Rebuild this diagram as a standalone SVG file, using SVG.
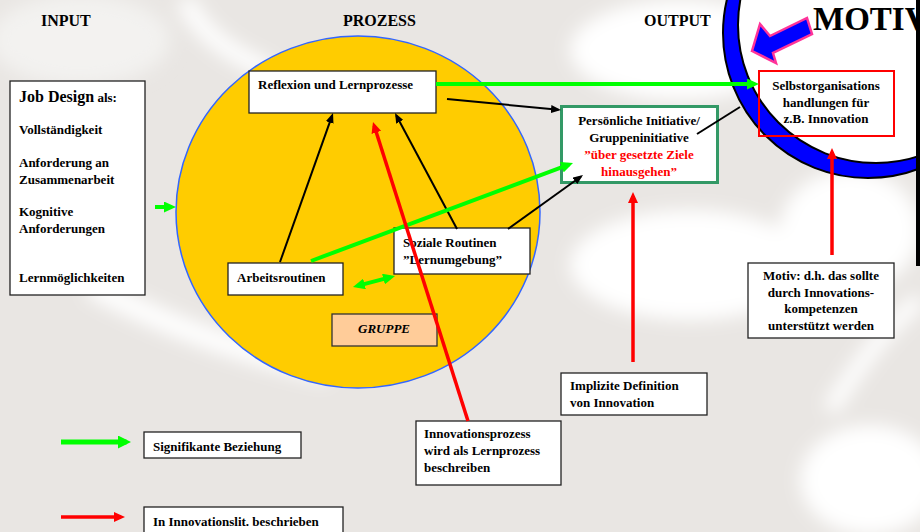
<svg xmlns="http://www.w3.org/2000/svg" width="920" height="532" viewBox="0 0 920 532">
<style>
.t{font-family:"Liberation Serif","Times New Roman",serif;font-weight:bold;font-size:13px;fill:#000}
.c{text-anchor:middle}
.h{font-size:16px}
.box{fill:#fff;stroke:#222;stroke-width:1.3}
.bk{stroke:#000;stroke-width:2;fill:none;marker-end:url(#ab)}
.rd{stroke:#ff0000;stroke-width:3.5;fill:none;marker-end:url(#ar)}
.gr{stroke:#00ff00;stroke-width:4;fill:none;marker-end:url(#ag)}
</style>
<defs>
<marker id="ab" markerUnits="userSpaceOnUse" markerWidth="10" markerHeight="8" refX="7.5" refY="4" orient="auto"><path d="M0,0 L10,4 L0,8 z" fill="#000"/></marker>
<marker id="ar" markerUnits="userSpaceOnUse" markerWidth="11" markerHeight="10" refX="7" refY="5" orient="auto"><path d="M0,0 L11,5 L0,10 z" fill="#ff0000"/></marker>
<marker id="ag" markerUnits="userSpaceOnUse" markerWidth="12" markerHeight="11" refX="7.5" refY="5.5" orient="auto-start-reverse"><path d="M0,0 L12,5.5 L0,11 z" fill="#00ff00"/></marker>
<marker id="agl" markerUnits="userSpaceOnUse" markerWidth="13" markerHeight="13" refX="8.5" refY="6.5" orient="auto"><path d="M0,0 L13,6.5 L0,13 z" fill="#00ff00"/></marker>
<filter id="blur" x="-20%" y="-20%" width="140%" height="140%"><feGaussianBlur stdDeviation="9"/></filter>
</defs>

<g id="background">
<rect x="0" y="0" width="920" height="532" fill="#e9e6e3"/>
<g filter="url(#blur)" fill="#ffffff">
<ellipse cx="80" cy="40" rx="90" ry="45" fill="#f3f2f0"/>
<ellipse cx="680" cy="50" rx="110" ry="50"/>
<ellipse cx="690" cy="265" rx="120" ry="55"/>
<ellipse cx="850" cy="230" rx="70" ry="60"/>
<ellipse cx="870" cy="480" rx="70" ry="55"/>
<path d="M185,0 Q205,45 270,70" stroke="#fff" stroke-width="18" fill="none"/>
<path d="M90,285 Q200,345 330,372" stroke="#fff" stroke-width="22" fill="none"/>
<path d="M830,410 Q880,330 920,300" stroke="#fff" stroke-width="16" fill="none"/>
</g>
</g>

<g id="titles">
<text class="t h" x="41" y="26">INPUT</text>
<text class="t h" x="343" y="26">PROZESS</text>
<text class="t h" x="644" y="26">OUTPUT</text>
</g>

<g id="gruppe-kreis">
<ellipse cx="358" cy="212" rx="182" ry="176" fill="#ffcc00" stroke="#3366ff" stroke-width="1.5"/>
</g>

<g id="motiv">
<circle cx="868" cy="33" r="145" fill="#0000ff" stroke="#000" stroke-width="2"/>
<circle cx="876" cy="25" r="138" fill="#ffffff" stroke="#000" stroke-width="2"/>
<text x="813" y="30" font-family="Liberation Serif, Times New Roman, serif" font-weight="bold" font-size="33" fill="#000">MOTIV</text>
<polygon points="752,51 776,63 773,53 812,34 807,18 770,36 760,24" fill="#0000ff" stroke="#ff3399" stroke-width="2.5" stroke-linejoin="miter"/>
<rect x="916" y="0" width="4" height="266" fill="#000"/>
</g>

<g id="job-design">
<rect class="box" x="10" y="81" width="135" height="214"/>
<text class="t" x="19" y="102"><tspan font-size="16">Job Design</tspan> als:</text>
<text class="t" x="19" y="134">Vollständigkeit</text>
<text class="t" x="19" y="167">Anforderung an</text>
<text class="t" x="19" y="184">Zusammenarbeit</text>
<text class="t" x="19" y="216">Kognitive</text>
<text class="t" x="19" y="233">Anforderungen</text>
<text class="t" x="19" y="282">Lernmöglichkeiten</text>
</g>

<g id="reflexion">
<rect class="box" x="249" y="71" width="187" height="42"/>
<text class="t" x="258" y="89">Reflexion und Lernprozesse</text>
</g>

<g id="arbeitsroutinen">
<rect class="box" x="228" y="263" width="115" height="32"/>
<text class="t" x="237" y="282">Arbeitsroutinen</text>
</g>

<g id="soziale-routinen">
<rect class="box" x="394" y="228" width="136" height="46"/>
<text class="t" x="403" y="247">Soziale Routinen</text>
<text class="t" x="403" y="264">”Lernumgebung”</text>
</g>

<g id="gruppe">
<rect x="332" y="314" width="105" height="32" fill="#ffcc99" stroke="#333" stroke-width="1.3"/>
<text class="t c" x="384" y="333" font-style="italic">GRUPPE</text>
</g>

<g id="initiative">
<rect x="561.5" y="106.5" width="156" height="76" fill="#fff" stroke="#339966" stroke-width="3"/>
<text class="t c" x="639" y="125">Persönliche Initiative/</text>
<text class="t c" x="639" y="142">Gruppeninitiative</text>
<text class="t c" x="639" y="159" style="fill:#ff0000">”über gesetzte Ziele</text>
<text class="t c" x="639" y="176" style="fill:#ff0000">hinausgehen”</text>
</g>

<g id="selbstorganisation">
<rect x="759" y="71" width="135" height="65" fill="none" stroke="#ff0000" stroke-width="2"/>
<text class="t c" x="826" y="90">Selbstorganisations</text>
<text class="t c" x="826" y="107">handlungen für</text>
<text class="t c" x="826" y="123">z.B. Innovation</text>
</g>

<g id="motiv-box">
<rect class="box" x="748" y="263" width="146" height="75"/>
<text class="t c" x="821" y="280">Motiv: d.h. das sollte</text>
<text class="t c" x="821" y="297">durch Innovations-</text>
<text class="t c" x="821" y="313">kompetenzen</text>
<text class="t c" x="821" y="330">unterstützt werden</text>
</g>

<g id="implizite-definition">
<rect class="box" x="561" y="373" width="146" height="42"/>
<text class="t" x="570" y="390">Implizite Definition</text>
<text class="t" x="570" y="407">von Innovation</text>
</g>

<g id="innovationsprozess">
<rect class="box" x="416" y="421" width="145" height="64"/>
<text class="t" x="424" y="438">Innovationsprozess</text>
<text class="t" x="424" y="455">wird als Lernprozess</text>
<text class="t" x="424" y="472">beschreiben</text>
</g>

<g id="legende-gruen">
<rect class="box" x="144" y="432" width="157" height="26"/>
<text class="t" x="153" y="451">Signifikante Beziehung</text>
</g>

<g id="legende-rot">
<rect class="box" x="144" y="507" width="199" height="30"/>
<text class="t" x="153" y="526">In Innovationslit. beschrieben</text>
</g>

<g id="connectors">
<line class="bk" x1="280" y1="262" x2="332.2" y2="115.4"/>
<line class="bk" x1="457" y1="229" x2="396.2" y2="115.2"/>
<line class="bk" x1="508" y1="229" x2="581" y2="176.5"/>
<line class="bk" x1="447" y1="99" x2="558.5" y2="109.8"/>
<line x1="697" y1="134" x2="740" y2="107" stroke="#000" stroke-width="2"/>
<line class="gr" x1="436" y1="84" x2="754.5" y2="84"/>
<line class="gr" x1="311" y1="261" x2="568.8" y2="164.6"/>
<line class="gr" x1="357.3" y1="285.9" x2="390.7" y2="277.1" style="marker-start:url(#ag)"/>
<line class="gr" x1="155" y1="207" x2="171.5" y2="207"/>
<line class="rd" x1="468" y1="421" x2="374.2" y2="125.8"/>
<line class="rd" x1="633" y1="362" x2="633" y2="196"/>
<line class="rd" x1="832" y1="255" x2="832" y2="152"/>
<line x1="61" y1="442" x2="126.5" y2="442" stroke="#00ff00" stroke-width="5" marker-end="url(#agl)"/>
<line class="rd" x1="61" y1="517" x2="121" y2="517"/>
</g>
</svg>
